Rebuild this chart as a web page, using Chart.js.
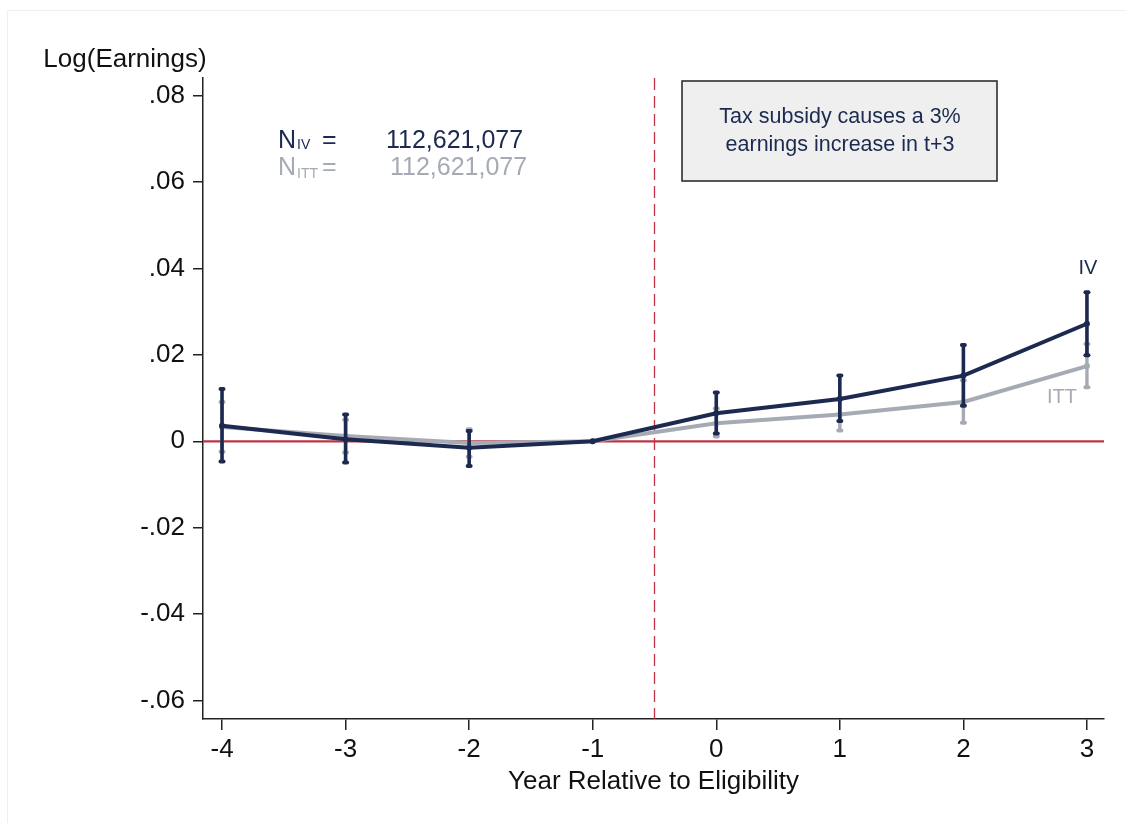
<!DOCTYPE html>
<html>
<head>
<meta charset="utf-8">
<script src="https://cdn.jsdelivr.net/npm/chart.js@4"></script>
<style>
  html, body { margin: 0; padding: 0; background: #ffffff; }
  #wrap { width: 1126px; height: 823px; position: relative; }
</style>
</head>
<body>
<div id="wrap"><canvas id="c" width="1126" height="823"></canvas></div>
<script>
// Event-study estimates by year relative to eligibility
const years = [-4, -3, -2, -1, 0, 1, 2, 3];

// IV estimates and 95% confidence bounds
const ivEst  = [0.0036, 0.0005, -0.0015, 0, 0.0065, 0.0098, 0.0152, 0.0272];
const ivLow  = [-0.0047, -0.0049, -0.0057, 0, 0.0018, 0.0047, 0.0082, 0.0199];
const ivHigh = [0.0121, 0.0062, 0.0024, 0, 0.0113, 0.0152, 0.0223, 0.0345];

// ITT estimates and 95% confidence bounds
const ittEst  = [0.0033, 0.0012, -0.0004, 0, 0.0042, 0.0062, 0.0091, 0.0174];
const ittLow  = [-0.0024, -0.0026, -0.0036, 0, 0.0011, 0.0025, 0.0043, 0.0125];
const ittHigh = [0.0091, 0.0050, 0.0028, 0, 0.0076, 0.0099, 0.0141, 0.0225];

// Axis ticks
const xTicks = [-4, -3, -2, -1, 0, 1, 2, 3];
const yTicks = [-0.06, -0.04, -0.02, 0, 0.02, 0.04, 0.06, 0.08];

const sampleN = "112,621,077";
const eligibilityCutoff = -0.5;

const NAVY = '#1c2a50';
const GREY = '#a6aab5';
const RED = '#bf3445';
const FONT = "'Liberation Sans', Arial, Helvetica, sans-serif";

function fmtTick(v) {
  if (Math.abs(v) < 1e-9) return '0';
  const s = Math.abs(v).toFixed(2).replace(/^0/, '');
  return (v < 0 ? '-' : '') + s;
}

const errBounds = [
  { low: ivLow, high: ivHigh, color: NAVY, width: 3.6 },
  { low: ittLow, high: ittHigh, color: GREY, width: 3.4 }
];

const figurePlugin = {
  id: 'figureDecor',
  beforeDraw(chart) {
    const ctx = chart.ctx;
    ctx.save();
    ctx.strokeStyle = '#eef0f0';
    ctx.lineWidth = 1;
    ctx.beginPath();
    ctx.moveTo(7.5, 823);
    ctx.lineTo(7.5, 10.5);
    ctx.lineTo(1126, 10.5);
    ctx.stroke();
    ctx.restore();
  },
  beforeDatasetsDraw(chart) {
    const { ctx, chartArea, scales } = chart;
    const x = scales.x, y = scales.y;
    ctx.save();
    // zero reference line
    const y0 = y.getPixelForValue(0);
    ctx.strokeStyle = RED;
    ctx.lineWidth = 2.2;
    ctx.beginPath();
    ctx.moveTo(chartArea.left, y0);
    ctx.lineTo(chartArea.right, y0);
    ctx.stroke();
    // eligibility cutoff
    const xc = Math.round(x.getPixelForValue(eligibilityCutoff)) + 0.5;
    ctx.lineWidth = 1.3;
    ctx.setLineDash([12, 6]);
    ctx.beginPath();
    ctx.moveTo(xc, chartArea.top);
    ctx.lineTo(xc, chartArea.bottom);
    ctx.stroke();
    ctx.restore();
  },
  afterDatasetDraw(chart, args) {
    const b = errBounds[args.index];
    if (!b) return;
    const { ctx, scales } = chart;
    ctx.save();
    ctx.strokeStyle = b.color;
    ctx.fillStyle = b.color;
    ctx.lineWidth = b.width;
    ctx.lineCap = 'butt';
    years.forEach((yr, i) => {
      if (b.low[i] === b.high[i]) return;
      const px = scales.x.getPixelForValue(yr);
      const pl = scales.y.getPixelForValue(b.low[i]);
      const ph = scales.y.getPixelForValue(b.high[i]);
      ctx.beginPath();
      ctx.moveTo(px, pl);
      ctx.lineTo(px, ph);
      ctx.stroke();
      // short rounded caps
      [pl, ph].forEach(py => {
        ctx.beginPath();
        ctx.roundRect(px - 3.5, py - 2, 7, 4, 2);
        ctx.fill();
      });
    });
    ctx.restore();
  },
  afterDraw(chart) {
    const { ctx, scales } = chart;
    ctx.save();
    // y-axis title
    ctx.fillStyle = '#111111';
    ctx.font = `26px ${FONT}`;
    ctx.textAlign = 'center';
    ctx.textBaseline = 'alphabetic';
    ctx.fillText('Log(Earnings)', 125, 67);

    // sample sizes
    const drawN = (sub, color, baseY, subDrop, valX) => {
      ctx.fillStyle = color;
      ctx.textAlign = 'left';
      ctx.font = `25px ${FONT}`;
      ctx.fillText('N', 278, baseY);
      ctx.font = `14px ${FONT}`;
      ctx.fillText(sub, 297, baseY + subDrop);
      ctx.font = `25px ${FONT}`;
      ctx.fillText('=', 322, baseY);
      ctx.fillText(sampleN, valX, baseY);
    };
    drawN('IV', NAVY, 148, 1, 386);
    drawN('ITT', GREY, 175, 3, 390);

    // annotation box
    ctx.fillStyle = '#efefef';
    ctx.fillRect(682, 81, 315, 100);
    ctx.strokeStyle = '#222222';
    ctx.lineWidth = 1.5;
    ctx.strokeRect(682, 81, 315, 100);
    ctx.fillStyle = NAVY;
    ctx.font = `21.5px ${FONT}`;
    ctx.textAlign = 'center';
    ctx.textBaseline = 'middle';
    ctx.fillText('Tax subsidy causes a 3%', 840, 117);
    ctx.fillText('earnings increase in t+3', 840, 145);

    // series labels at the final year
    const xLast = scales.x.getPixelForValue(years[years.length - 1]);
    ctx.font = `20px ${FONT}`;
    ctx.fillStyle = NAVY;
    ctx.fillText('IV', xLast + 1, 268);
    ctx.fillStyle = GREY;
    ctx.fillText('ITT', xLast - 25, 397);
    ctx.restore();
  }
};

const toPts = (vals) => years.map((yr, i) => ({ x: yr, y: vals[i] }));

new Chart(document.getElementById('c'), {
  type: 'line',
  data: {
    datasets: [
      {
        label: 'IV',
        data: toPts(ivEst),
        borderColor: NAVY,
        backgroundColor: NAVY,
        borderWidth: 4,
        pointRadius: 3,
        pointBorderWidth: 0,
        tension: 0
      },
      {
        label: 'ITT',
        data: toPts(ittEst),
        borderColor: GREY,
        backgroundColor: GREY,
        borderWidth: 4,
        pointRadius: 3,
        pointBorderWidth: 0,
        tension: 0
      }
    ]
  },
  options: {
    responsive: false,
    animation: false,
    layout: { padding: { top: 78, right: 22, left: 0, bottom: 0 } },
    plugins: {
      legend: { display: false },
      tooltip: { enabled: false }
    },
    scales: {
      x: {
        type: 'linear',
        min: -4.154,
        max: 3.138,
        afterBuildTicks: (s) => { s.ticks = xTicks.map(v => ({ value: v })); },
        afterFit: (s) => { s.height = 104; },
        grid: { display: true, drawOnChartArea: false, drawTicks: true, tickLength: 11, color: '#222222', lineWidth: 1.5 },
        border: { display: true, color: '#222222', width: 1.5 },
        ticks: {
          color: '#111111',
          font: { family: FONT, size: 26 },
          padding: 4,
          maxRotation: 0,
          autoSkip: false,
          callback: (v) => String(v)
        },
        title: {
          display: true,
          text: 'Year Relative to Eligibility',
          color: '#111111',
          font: { family: FONT, size: 26 },
          padding: { top: 0, bottom: 26 }
        }
      },
      y: {
        type: 'linear',
        min: -0.06426,
        max: 0.08407,
        afterBuildTicks: (s) => { s.ticks = yTicks.map(v => ({ value: v })); },
        afterFit: (s) => { s.width = 203; },
        grid: { display: true, drawOnChartArea: false, drawTicks: true, tickLength: 10, color: '#222222', lineWidth: 1.5 },
        border: { display: true, color: '#222222', width: 1.5 },
        ticks: {
          color: '#111111',
          font: { family: FONT, size: 26 },
          padding: 8,
          autoSkip: false,
          callback: (v) => fmtTick(v)
        }
      }
    }
  },
  plugins: [figurePlugin]
});
</script>
</body>
</html>
